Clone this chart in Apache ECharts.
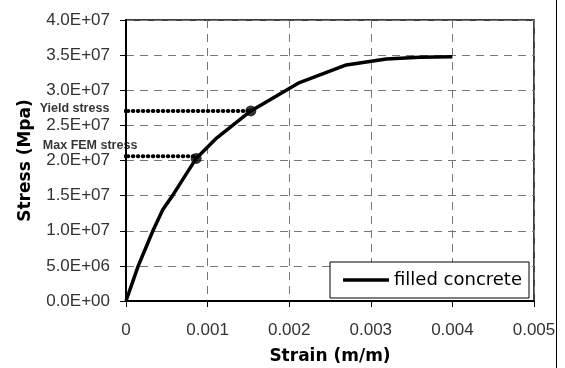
<!DOCTYPE html>
<html>
<head>
<meta charset="utf-8">
<script src="https://cdn.jsdelivr.net/npm/echarts@6/dist/echarts.min.js"></script>
<style>
  html, body { margin: 0; padding: 0; background: #fff; }
  #chart { width: 565px; height: 368px; }
</style>
</head>
<body>
<div id="chart"></div>
<script>
// 应力-应变曲线数据
const strain = [0, 0.00015, 0.00033, 0.00045, 0.00057, 0.00086, 0.00111, 0.00153, 0.00211, 0.0027, 0.00319, 0.0036, 0.004];
const stress = [0, 5.0e6, 1.0e7, 1.3e7, 1.5e7, 2.03e7, 2.32e7, 2.705e7, 3.1e7, 3.36e7, 3.445e7, 3.47e7, 3.477e7];

// 标注点（Max FEM stress, Yield stress）
const markStrain = [0.00086, 0.00153];
const markStress = [2.03e7, 2.705e7];
const markNames = ['Max FEM stress', 'Yield stress'];
const guideStress = [2.06e7, 2.705e7];
const guideStart = -0.0001;

// 坐标轴刻度
const yTicks = [0, 5e6, 1e7, 1.5e7, 2e7, 2.5e7, 3e7, 3.5e7, 4e7];
const xTicks = [0, 0.001, 0.002, 0.003, 0.004, 0.005];

function expLabel(v) {
    const s = v.toExponential(1).toUpperCase();
    const parts = s.split('E');
    let e = parseInt(parts[1], 10);
    const sign = e < 0 ? '-' : '+';
    e = Math.abs(e);
    return parts[0] + 'E' + sign + String(e).padStart(2, '0');
}

const chart = echarts.init(document.getElementById('chart'));

const guideSeries = markNames.map((name, i) => ({
    type: 'line',
    name: name,
    data: [[guideStart, guideStress[i]], [markStrain[i], guideStress[i]]],
    showSymbol: false,
    clip: false,
    silent: true,
    z: 3,
    lineStyle: { color: '#000', width: 4, type: [0.5, 4.5], cap: 'round' }
}));

const option = {
    animation: false,
    textStyle: { fontFamily: 'Liberation Sans' },
    grid: {
        left: 126, right: 31, top: 20, bottom: 67,
        outerBoundsMode: 'none',
        show: true, borderColor: '#000', borderWidth: 1.5
    },
    legend: {
        data: [{ name: 'filled concrete', icon: 'rect' }],
        right: 36,
        top: 262,
        itemWidth: 46,
        itemHeight: 3.5,
        itemGap: 6,
        padding: [9, 7, 9, 13],
        borderColor: '#000',
        borderWidth: 1,
        backgroundColor: '#fff',
        textStyle: { fontFamily: 'DejaVu Sans', fontSize: 18, color: '#000', padding: [0, 0, 0, 0] }
    },
    xAxis: {
        type: 'value',
        min: xTicks[0],
        max: xTicks[xTicks.length - 1],
        interval: 0.001,
        name: 'Strain (m/m)',
        nameLocation: 'middle',
        nameGap: 47,
        nameTextStyle: { fontFamily: 'DejaVu Sans', fontWeight: 'bold', fontSize: 17, color: '#000' },
        axisLine: { lineStyle: { color: '#000', width: 2 } },
        axisTick: { show: true, length: 6, lineStyle: { color: '#000', width: 1 } },
        axisLabel: {
            margin: 21, fontSize: 17, color: '#333',
            formatter: v => String(+v.toFixed(3))
        },
        splitLine: { show: true, lineStyle: { color: '#777', width: 1, type: [8, 6] } }
    },
    yAxis: {
        type: 'value',
        min: yTicks[0],
        max: yTicks[yTicks.length - 1],
        interval: 5e6,
        name: 'Stress (Mpa)',
        nameLocation: 'middle',
        nameGap: 92,
        nameTextStyle: { fontFamily: 'DejaVu Sans', fontWeight: 'bold', fontSize: 17, color: '#000' },
        axisLine: { show: true, lineStyle: { color: '#000', width: 2 } },
        axisTick: { show: true, length: 6, lineStyle: { color: '#000', width: 1 } },
        axisLabel: { margin: 16, fontSize: 17, color: '#333', formatter: expLabel },
        splitLine: { show: true, lineStyle: { color: '#777', width: 1, type: [8, 6] } }
    },
    series: [
        {
            type: 'line',
            name: 'filled concrete',
            data: strain.map((x, i) => [x, stress[i]]),
            showSymbol: false,
            z: 4,
            itemStyle: { color: '#000' },
            lineStyle: { color: '#000', width: 3.5 }
        },
        ...guideSeries,
        {
            // 标注点
            type: 'scatter',
            name: 'marks',
            data: markStrain.map((x, i) => [x, markStress[i]]),
            symbolSize: 11,
            z: 5,
            itemStyle: { color: '#000' }
        },
        {
            // 标注文字
            type: 'scatter',
            name: 'notes',
            data: [
                { value: [guideStart, guideStress[0]], label: { position: [20, -10] } },
                { value: [guideStart, guideStress[1]], label: { position: [-8, -2] } }
            ],
            symbolSize: 1,
            clip: false,
            itemStyle: { color: 'rgba(0,0,0,0)' },
            label: {
                show: true,
                formatter: p => markNames[p.dataIndex],
                align: 'right',
                verticalAlign: 'middle',
                fontFamily: 'Liberation Sans',
                fontWeight: 'bold',
                fontSize: 12.5,
                color: '#000'
            }
        }
    ],
    graphic: [
        {
            type: 'line',
            shape: { x1: 556.5, y1: 0, x2: 556.5, y2: 368 },
            style: { stroke: '#000', lineWidth: 1 }
        }
    ]
};

chart.setOption(option);
</script>
</body>
</html>
